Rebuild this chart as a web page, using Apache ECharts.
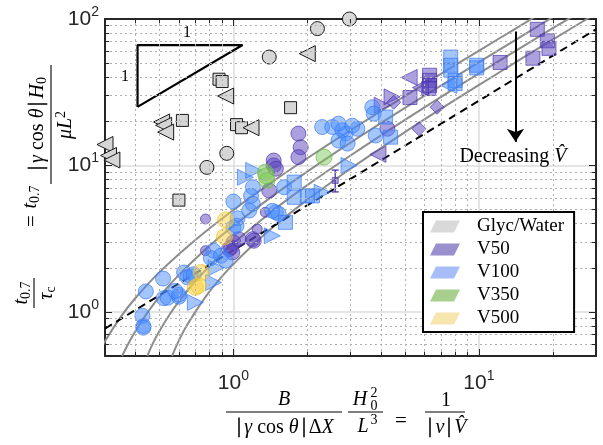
<!DOCTYPE html>
<html>
<head>
<meta charset="utf-8">
<script src="https://cdn.jsdelivr.net/npm/echarts@6/dist/echarts.min.js"></script>
<style>
html, body { margin: 0; padding: 0; background: #fff; }
#chart { width: 603px; height: 445px; }
</style>
</head>
<body>
<div id="chart"></div>
<script>
// axis ranges and minor grid positions
const xRange = [0.3, 30];
const yRange = [0.5, 100];
const xMinor = [0.4, 0.5, 0.6, 0.7, 0.8, 0.9, 2, 3, 4, 5, 6, 7, 8, 9, 20];
const yMinor = [0.6, 0.7, 0.8, 0.9, 2, 3, 4, 5, 6, 7, 8, 9, 20, 30, 40, 50, 60, 70, 80, 90];

// Glyc/Water (gray)
const glycCircle = [[2.97, 100], [2.2, 86], [1.40, 55], [0.94, 12.1], [0.78, 9.7]];
const glycSquare = [[0.874, 38.8], [0.9, 37.4], [1.71, 24.8], [0.62, 20.3], [1.03, 19], [1.08, 18.1], [0.6, 5.8]];
const glycLeft = [[2.0, 58], [0.93, 29.8], [0.51, 19.8], [0.52, 18.8], [0.53, 16.9], [1.18, 18.1], [0.30, 13.9], [0.31, 11.7], [0.32, 10.9]];

// V50 (purple)
const v50Circle = [[0.98, 2.76], [1.0, 2.98], [0.99, 2.55], [1.05, 3.14], [0.96, 2.69], [1.2, 3.14], [1.21, 3.06],
  [1.40, 6.74], [1.84, 16.5], [1.88, 13.3], [1.84, 11.4], [1.46, 10.8], [1.46, 10], [1.49, 9.5], [4.24, 17.8]];
const v50SmallCircle = [[0.77, 4.31], [0.77, 2.62], [1.25, 3.68], [1.35, 4.79]];
const v50Square = [[17.3, 85], [19, 71], [19.3, 63], [16.6, 54], [12.2, 50.5], [5.24, 29.1], [6.3, 41.3], [6.3, 38.1], [6.3, 35.2], [6.25, 33.5]];
const v50Left = [[5.2, 39.9], [5.78, 34], [3.88, 11.9]];
const v50Right = [[4.04, 25.8], [4.43, 29.4]];
const v50Diamond = [[6.76, 25], [5.7, 17.8], [4.5, 27]];
const v50ErrX = [2.6, 2.6];
const v50ErrY = [9.3, 6.6];
const v50ErrMid = [[2.6, 7.9]];

// V100 (blue)
const v100Circle = [[0.426, 0.94], [0.43, 0.80], [0.43, 0.78], [0.44, 1.38], [0.517, 1.69], [0.52, 1.24], [0.54, 1.25],
  [0.6, 1.27], [0.6, 1.31], [0.58, 1.39], [0.63, 1.86], [0.65, 1.72], [0.67, 1.76], [0.69, 1.81],
  [0.83, 2.62], [0.81, 2.33], [0.89, 2.42], [0.93, 2.24], [1.0, 5.67], [1.04, 4.36], [1.0, 3.77], [1.03, 3.88],
  [1.2, 7.1], [1.18, 6.2], [1.2, 5.47], [1.16, 4.92], [1.49, 4.79], [1.53, 4.67], [1.44, 4.9], [1.61, 7.1],
  [2.3, 18.3], [2.53, 18.3], [2.78, 17.4], [2.87, 16.5], [2.68, 14.8], [2.92, 14.1], [2.68, 19.3],
  [3.68, 25], [3.73, 22.6], [3.8, 16.0], [3.2, 17.8], [3.05, 18.7]];
const v100Square = [[7.68, 55], [7.68, 48.3], [7.68, 44.7], [9.8, 48.3], [9.8, 46.4], [8.0, 38], [8.0, 36.3],
  [4.17, 21.4], [4.37, 15.6], [1.63, 4.09], [1.77, 6.06], [2.0, 6.2], [2.1, 6.2], [1.77, 7.7]];
const v100Right = [[1.12, 8.3], [0.85, 2.0], [0.83, 1.59], [0.70, 1.16], [1.44, 3.31], [2.3, 6.56], [2.96, 10], [1.21, 9.25]];
const v100Left = [[7.55, 35.2]];

// V350 (green) and V500 (yellow)
const v350Circle = [[1.35, 9.0], [2.34, 11.4], [1.36, 8.5], [1.37, 7.9]];
const v500Circle = [[0.93, 4.25], [0.92, 3.26], [0.74, 1.86], [0.70, 1.47], [0.72, 1.51]];

// model curves (gray) and dashed asymptote
const curve1 = [[0.28, 0.5], [0.3, 0.63], [0.35, 0.94], [0.4, 1.25], [0.5, 1.87], [0.7, 3.1], [1, 4.97], [1.5, 8.1], [2, 11.2], [3, 17.4], [5, 29.8], [8, 48.4], [12, 73], [17, 104]];
const curve2 = [[0.352, 0.5], [0.38, 0.64], [0.42, 0.85], [0.5, 1.27], [0.6, 1.79], [0.8, 2.83], [1, 3.87], [1.5, 6.47], [2, 9.07], [3, 14.3], [5, 24.7], [8, 40.3], [12, 61], [16, 82], [20, 103]];
const curve3 = [[0.446, 0.5], [0.47, 0.61], [0.5, 0.74], [0.55, 0.96], [0.6, 1.18], [0.7, 1.62], [0.85, 2.28], [1, 2.94], [1.5, 5.14], [2, 7.34], [3, 11.7], [5, 20.5], [8, 33.7], [12, 51.3], [20, 86.5], [25, 108]];
const curve4 = [[0.563, 0.5], [0.59, 0.6], [0.63, 0.75], [0.7, 1.0], [0.8, 1.38], [0.9, 1.75], [1, 2.12], [1.3, 3.23], [1.6, 4.34], [2, 5.82], [3, 9.5], [5, 16.9], [8, 28], [12, 42.8], [20, 72.4], [30, 109]];
const dashed = [[0.3, 0.77], [30, 85]];

// slope triangle and arrow
const slopeTri = [[0.407, 25.1], [0.407, 66.4], [1.09, 66.4], [0.407, 25.1]];
const arrowFrom = [14.1, 82];
const arrowTo = [14.1, 14.5];

const serif = 'Liberation Serif';
const sans = 'Liberation Sans';

const styles = {
  'Glyc/Water': { color: '#d6d6d6', borderColor: '#1a1a1a', borderWidth: 1, opacity: 1 },
  'V50': { color: 'rgba(92,70,190,0.64)', borderColor: 'rgba(75,52,170,0.85)', borderWidth: 1 },
  'V100': { color: 'rgba(70,140,255,0.62)', borderColor: 'rgba(55,120,245,0.85)', borderWidth: 1 },
  'V350': { color: 'rgba(128,200,90,0.62)', borderColor: 'rgba(110,185,70,0.85)', borderWidth: 1 },
  'V500': { color: 'rgba(250,208,60,0.64)', borderColor: 'rgba(240,195,40,0.85)', borderWidth: 1 }
};

function scatter(name, data, symbol, size, rotate) {
  return {
    type: 'scatter', name: name, data: data, symbol: symbol, symbolSize: size,
    symbolRotate: rotate || 0, clip: false, z: 3,
    itemStyle: styles[name], emphasis: { disabled: true }
  };
}

function curve(data) {
  return {
    type: 'line', data: data, smooth: 0.3, showSymbol: false, symbol: 'none', z: 2,
    lineStyle: { color: '#8c8c8c', width: 2 }, silent: true
  };
}

// minor grid lines + minor ticks
const gridMarks = [];
xMinor.forEach(function (v) { gridMarks.push({ xAxis: v }); });
yMinor.forEach(function (v) { gridMarks.push({ yAxis: v }); });
const tickMarks = [];
xMinor.forEach(function (v) {
  tickMarks.push([{ coord: [v, yRange[0]] }, { coord: [v, yRange[0] * 1.07] }]);
  tickMarks.push([{ coord: [v, yRange[1]] }, { coord: [v, yRange[1] / 1.07] }]);
});
yMinor.forEach(function (v) {
  tickMarks.push([{ coord: [xRange[0], v] }, { coord: [xRange[0] * 1.04, v] }]);
  tickMarks.push([{ coord: [xRange[1], v] }, { coord: [xRange[1] / 1.04, v] }]);
});

function powLabel(v) {
  const l = Math.log10(v);
  const e = Math.round(l);
  if (Math.abs(l - e) > 1e-6) return '';
  return '{b|10}{s|' + e + '}';
}
const labelRich = {
  b: { fontFamily: sans, fontSize: 21, color: '#262626' },
  s: { fontFamily: sans, fontSize: 14, color: '#262626', padding: [0, 0, 14, 0] }
};

function logAxis(range, pos, showLabel, margin) {
  return {
    type: 'log', logBase: 10, min: range[0], max: range[1], position: pos,
    axisLine: { show: true, onZero: false, lineStyle: { color: '#262626', width: 2 } },
    axisTick: { show: true, inside: true, length: 7, lineStyle: { color: '#262626', width: 1 } },
    axisLabel: { show: showLabel, formatter: powLabel, rich: labelRich, margin: margin, showMinLabel: false, showMaxLabel: true },
    splitLine: { show: showLabel, lineStyle: { color: '#dcdcdc', width: 1.5 } },
    minorTick: { show: false }
  };
}

const iconPath = 'path://M6,0L30,0L24,12L0,12Z';

const chart = echarts.init(document.getElementById('chart'), null, { renderer: 'canvas' });

const series = [
  {
    type: 'line', data: [], z: 1, silent: true,
    markLine: { silent: true, symbol: 'none', label: { show: false }, animation: false,
      lineStyle: { color: '#b0b0b0', type: [2, 3], width: 1 }, data: gridMarks }
  },
  {
    type: 'line', data: [], z: 4, silent: true,
    markLine: { silent: true, symbol: 'none', label: { show: false }, animation: false,
      lineStyle: { color: '#262626', type: 'solid', width: 1 }, data: tickMarks }
  },
  curve(curve1), curve(curve2), curve(curve3), curve(curve4),
  {
    type: 'line', data: dashed, showSymbol: false, symbol: 'none', z: 2, silent: true,
    lineStyle: { color: '#000', width: 2, type: [8, 5] }
  },
  {
    type: 'line', data: slopeTri, showSymbol: false, symbol: 'none', z: 2, silent: true,
    lineStyle: { color: '#000', width: 2.2 }
  },
  {
    type: 'line', data: [], z: 2, silent: true,
    markLine: { silent: true, symbol: ['none', 'arrow'], symbolSize: 13, label: { show: false }, animation: false,
      lineStyle: { color: '#000', type: 'solid', width: 2 }, data: [[{ coord: arrowFrom }, { coord: arrowTo }]] }
  },
  scatter('Glyc/Water', glycCircle, 'circle', 14),
  scatter('Glyc/Water', glycSquare, 'rect', 12),
  scatter('Glyc/Water', glycLeft, 'triangle', 16, 90),
  scatter('V50', v50Circle, 'circle', 15),
  scatter('V50', v50SmallCircle, 'circle', 10),
  scatter('V50', v50Square, 'rect', 14),
  scatter('V50', v50Left, 'triangle', 16, 90),
  scatter('V50', v50Right, 'triangle', 16, -90),
  scatter('V50', v50Diamond, 'diamond', 14),
  {
    type: 'line', name: 'V50', data: [[v50ErrX[0], v50ErrY[0]], [v50ErrX[1], v50ErrY[1]]], z: 3, silent: true,
    symbol: 'rect', symbolSize: [7, 1.5], showSymbol: true,
    lineStyle: { color: 'rgba(80,58,170,0.9)', width: 1.5 }, itemStyle: { color: 'rgba(80,58,170,0.9)' }
  },
  scatter('V50', v50ErrMid, 'rect', 6),
  scatter('V100', v100Circle, 'circle', 15),
  scatter('V100', v100Square, 'rect', 14),
  scatter('V100', v100Right, 'triangle', 16, -90),
  scatter('V100', v100Left, 'triangle', 16, 90),
  scatter('V350', v350Circle, 'circle', 16),
  scatter('V500', v500Circle, 'circle', 16)
];

function t(text, x, y, size, extra) {
  const el = { type: 'text', x: x, y: y, z: 10,
    style: Object.assign({ text: text, fill: '#000', font: (size || 20) + 'px "' + serif + '"', align: 'center', verticalAlign: 'middle' }, extra || {}) };
  return el;
}
function it(text, x, y, size) {
  return t(text, x, y, size, { font: 'italic ' + (size || 20) + 'px "' + serif + '"' });
}
function bar(x1, y1, x2, y2) {
  return { type: 'line', z: 10, shape: { x1: x1, y1: y1, x2: x2, y2: y2 }, style: { stroke: '#000', lineWidth: 1.1 } };
}
const mathRich = {
  n: { fontFamily: serif, fontSize: 20, color: '#000' },
  i: { fontFamily: serif, fontSize: 20, fontStyle: 'italic', color: '#000' },
  sb: { fontFamily: serif, fontSize: 14, color: '#000', padding: [9, 0, 0, 0] },
  sp: { fontFamily: serif, fontSize: 14, color: '#000', padding: [0, 0, 9, 0] }
};
function rt(text, x, y) {
  return t(text, x, y, 20, { rich: mathRich });
}

const graphic = [
  // x-axis title
  it('B', 284, 400),
  bar(226, 412, 342, 412),
  rt('{n|\u2223}{i|γ}{n| cos }{i|θ}{n|\u2223Δ}{i|X}', 284, 428),
  it('H', 360, 400),
  t('2', 374, 393, 14), t('0', 374, 406, 14),
  bar(348, 412, 383, 412),
  it('L', 363, 427), t('3', 374, 420, 14),
  t('=', 401, 421, 21),
  t('1', 446, 401, 20),
  bar(425, 412, 465, 412),
  rt('{n|\u2223}{i|ν}{n|\u2223}{i|V\u0302}', 446, 428),
  // y-axis title: left part t0.7/τc = t0.7
  {
    type: 'group', x: 34, y: 187, rotation: Math.PI / 2, z: 10,
    children: [
      rt('{i|t}{sb|0.7}', -106, -12),
      bar(-121, 0, -91, 0),
      rt('{i|τ}{sb|c}', -106, 13),
      t('=', -34, -2, 21),
      rt('{i|t}{sb|0.7}', -10, -3)
    ]
  },
  // y-axis title: right fraction
  {
    type: 'group', x: 51, y: 187, rotation: Math.PI / 2, z: 10,
    children: [
      bar(3, 0, 122, 0),
      rt('{n|\u2223}{i|γ}{n| cos }{i|θ}{n|\u2223}{i|H}{sb|0}', 62, -13),
      rt('{i|μL}{sp|2}', 62, 15)
    ]
  },
  // annotations
  t('1', 187, 33, 16),
  t('1', 125, 77, 16),
  rt('{n|Decreasing }{i|V\u0302}', 513, 157)
];

chart.setOption({
  animation: false,
  backgroundColor: '#fff',
  grid: { left: 105, top: 19, width: 491, height: 337, containLabel: false },
  xAxis: [logAxis(xRange, 'bottom', true, 13), logAxis(xRange, 'top', false, 8)],
  yAxis: [logAxis(yRange, 'left', true, 6), logAxis(yRange, 'right', false, 8)],
  legend: {
    orient: 'vertical', left: 423, top: 212, padding: [5, 10, 4, 7], itemGap: 4,
    itemWidth: 30, itemHeight: 12, borderColor: '#000', borderWidth: 2, backgroundColor: '#fff',
    selectedMode: false, z: 20,
    textStyle: { fontFamily: serif, fontSize: 19, color: '#000', padding: [0, 0, 0, 12] },
    data: [
      { name: 'Glyc/Water', icon: iconPath, itemStyle: { color: '#d9d9d9', borderWidth: 0, opacity: 1 } },
      { name: 'V50', icon: iconPath, itemStyle: { color: '#9a90cf', borderWidth: 0, opacity: 1 } },
      { name: 'V100', icon: iconPath, itemStyle: { color: '#a7bdf7', borderWidth: 0, opacity: 1 } },
      { name: 'V350', icon: iconPath, itemStyle: { color: '#a9cf8f', borderWidth: 0, opacity: 1 } },
      { name: 'V500', icon: iconPath, itemStyle: { color: '#f6e6ae', borderWidth: 0, opacity: 1 } }
    ]
  },
  series: series,
  graphic: graphic
});
</script>
</body>
</html>
